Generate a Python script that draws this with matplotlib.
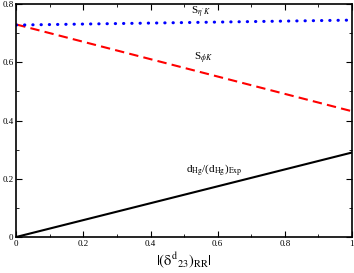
import numpy as np
import matplotlib
matplotlib.use('Agg')
import matplotlib.pyplot as plt
from matplotlib.ticker import MultipleLocator, FuncFormatter

plt.rcParams['font.family'] = 'Liberation Serif'
plt.rcParams['mathtext.fontset'] = 'stix'

# values
delta = [0.0, 1.0]
d_hg = [0.0, 0.29]
s_phik = [0.73, 0.432]
s_etak = [0.728, 0.745]


def fmt(v, pos):
    return '%g' % round(v, 2)


fig = plt.figure(figsize=(3.54, 2.73), dpi=100)
ax = fig.add_axes([0.046, 0.132, 0.948, 0.853])

ax.plot(delta, d_hg, '-', c='k', lw=1.5)
ax.plot(delta, s_phik, '--', c='r', lw=1.5, dashes=(4.5, 2.5))
ax.plot(delta, s_etak, ':', c='b', lw=2.2, dashes=(0.1, 2.6), dash_capstyle='round')

ax.text(0.52, 0.765, r"S$_{\eta'K}$", fontsize=8)
ax.text(0.53, 0.605, r"S$_{\phi K}$", fontsize=8)
ax.text(0.505, 0.22, r"d$_{\rm Hg}$/(d$_{\rm Hg}$)$_{\rm Exp}$", fontsize=8)

ax.set_xlim(0, 1)
ax.set_ylim(0, 0.8)
ax.xaxis.set_major_locator(MultipleLocator(0.2))
ax.xaxis.set_minor_locator(MultipleLocator(0.1))
ax.yaxis.set_major_locator(MultipleLocator(0.2))
ax.yaxis.set_minor_locator(MultipleLocator(0.1))
ax.xaxis.set_major_formatter(FuncFormatter(fmt))
ax.yaxis.set_major_formatter(FuncFormatter(fmt))
ax.tick_params(which='both', direction='in', top=True, right=True, labelsize=6.5, pad=2)
ax.tick_params(which='major', length=4)
ax.tick_params(which='minor', length=2)
for s in ax.spines.values():
    s.set_linewidth(1.2)

ax.set_xlabel(r"$|(\mathrm{δ}^{\rm d}{}_{23})_{\rm RR}|$", fontsize=10.5, labelpad=2)

fig.savefig('out.png', dpi=100)
